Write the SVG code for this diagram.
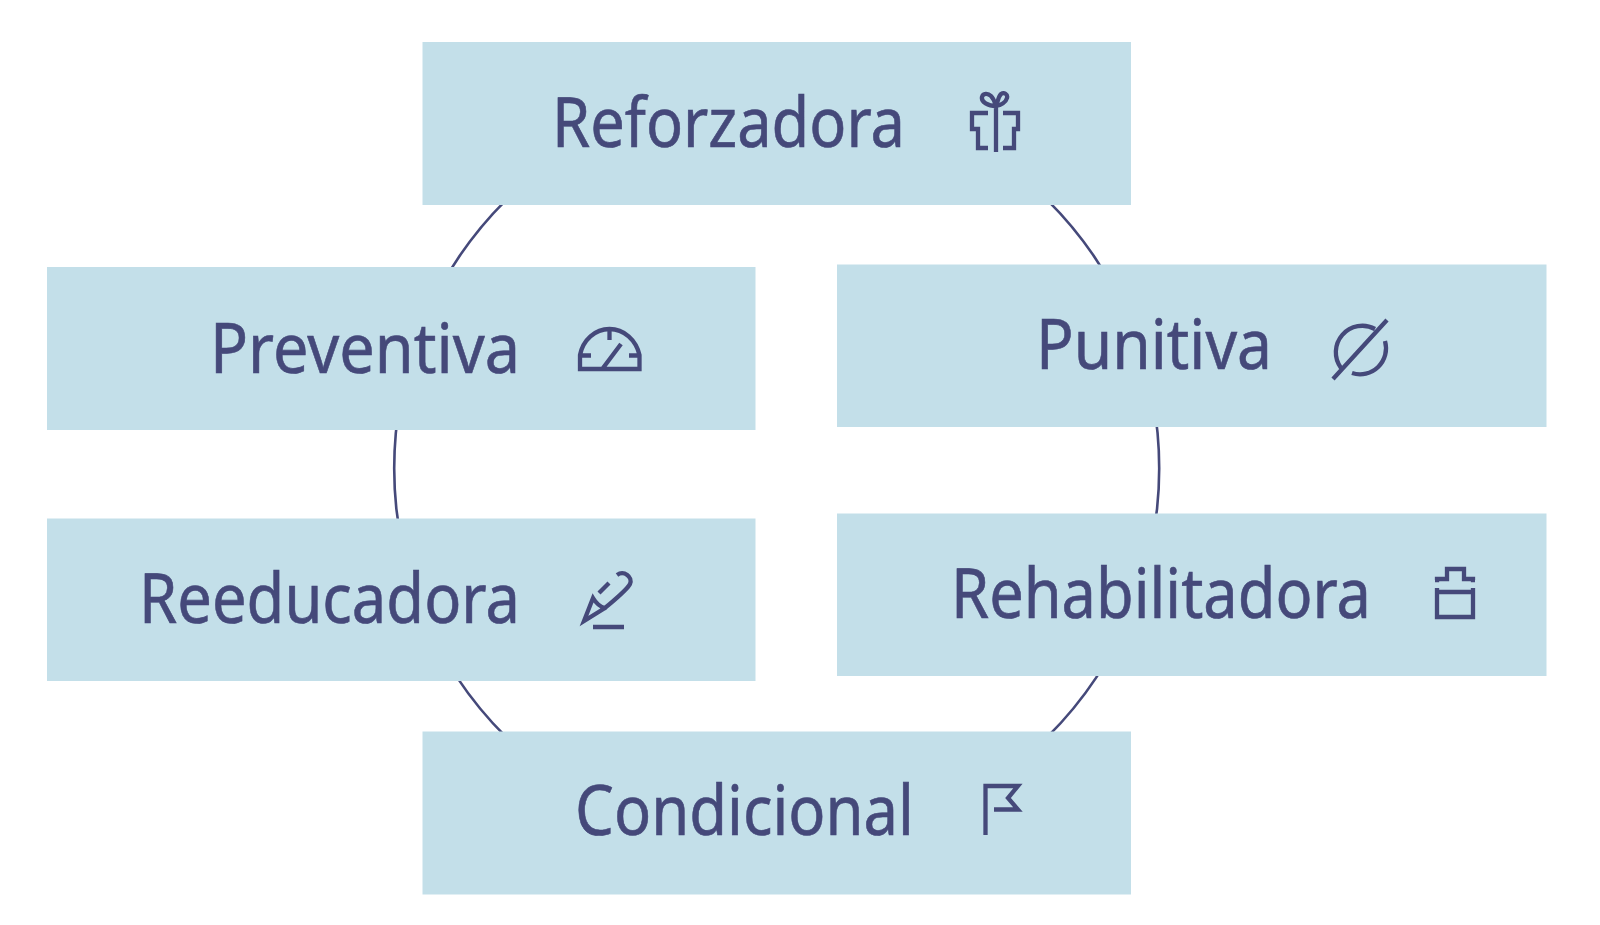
<svg xmlns="http://www.w3.org/2000/svg" width="1600" height="925" viewBox="0 0 1600 925">
<style>
.box{fill:#c3dfe9}
.t{font-family:"Noto Sans","Open Sans",sans-serif;font-size:69px;fill:#45497a;stroke:#45497a;stroke-width:.6;text-anchor:start}
.i{fill:none;stroke:#45497a;stroke-width:4.3}
</style>
<rect width="1600" height="925" fill="#fff"/>
<g id="connectors"><ellipse cx="776.700" cy="468.500" rx="382.500" ry="380" fill="none" stroke="#45497a" stroke-width="2.6"/></g>
<g id="reforzadora"><rect class="box" x="422.500" y="42" width="708.500" height="163"/><text class="t" x="552" y="147" textLength="353" lengthAdjust="spacingAndGlyphs">Reforzadora</text>
<path class="i" d="M996 152V100M996 106C988 106 981 102 982 97C983 93 988 93 991 96C994 99 995 103 996 106C998 102 998 97 1001 94C1004 92 1008 94 1007 98C1006 102 1001 105 996 106M988 113H972V129H978V148H988M1003 113H1018V129H1014V148H1003"/></g>
<g id="preventiva"><rect class="box" x="47" y="267" width="708.500" height="163"/><text class="t" x="210" y="373" textLength="310" lengthAdjust="spacingAndGlyphs">Preventiva</text>
<path class="i" d="M580 369V355C583 340 595 329 609.500 329C624 329 636 340 639.500 355V369ZM578 369H641M609.500 329V340M580 355.500H591M629 355.500H640M603 368L621 344"/></g>
<g id="punitiva"><rect class="box" x="837" y="264.500" width="709.500" height="162.500"/><text class="t" x="1036" y="369" textLength="236" lengthAdjust="spacingAndGlyphs">Punitiva</text>
<path class="i" d="M1333 379L1387 320M1341 368A26.500 26.500 0 0 1 1375 329M1385 341A26 26 0 0 1 1352 373"/></g>
<g id="reeducadora"><rect class="box" x="47" y="518.500" width="708.500" height="162.500"/><text class="t" x="139" y="623" textLength="381" lengthAdjust="spacingAndGlyphs">Reeducadora</text>
<path class="i" d="M617 575C624 570 633 577 630 584C627 590 612 602 605 608C600 607 596 603 593 598L584 621L605 608M599 593L609 583M593 627H624"/></g>
<g id="rehabilitadora"><rect class="box" x="837" y="513.500" width="709.500" height="162.500"/><text class="t" x="951" y="618" textLength="420" lengthAdjust="spacingAndGlyphs">Rehabilitadora</text>
<path class="i" d="M1437 588V617H1473V588M1437 592H1473M1435 580H1437V579H1447V569H1464V579H1473V580H1475"/></g>
<g id="condicional"><rect class="box" x="422.500" y="731.500" width="708.500" height="163"/><text class="t" x="575" y="835" textLength="339" lengthAdjust="spacingAndGlyphs">Condicional</text>
<path class="i" d="M985.500 835V786H1018L1008 798L1018 809.500H994"/></g>
</svg>
